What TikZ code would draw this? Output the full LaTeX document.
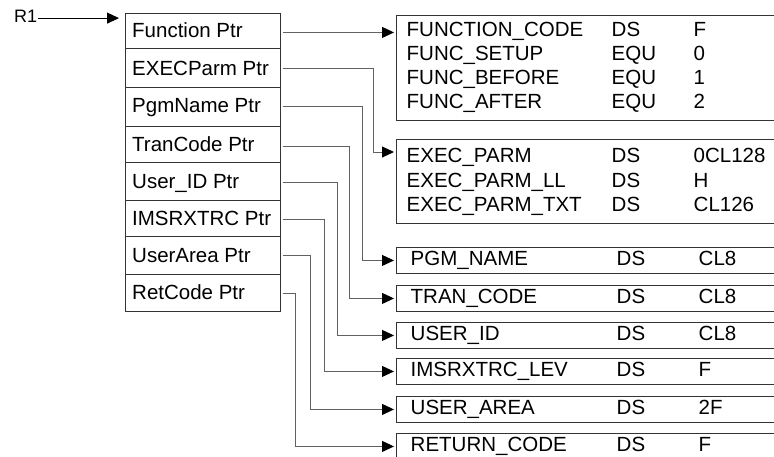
\documentclass[tikz,border=0pt]{standalone}
\usepackage{fontspec}
\setmainfont{Liberation Sans}
\usetikzlibrary{arrows.meta,calc}
\begin{document}
\begin{tikzpicture}[x=1pt,y=-1pt,
  txt/.style={anchor=base west,inner sep=0pt,font=\fontsize{20.5}{24}\selectfont},
  smalltxt/.style={anchor=base west,inner sep=0pt,font=\fontsize{18}{21}\selectfont},
  cell/.style={draw=black!80,line width=0.9pt,anchor=north west,inner sep=0pt,minimum width=155pt},
  bigbox/.style={draw=black!80,line width=0.9pt,anchor=north west,inner sep=0pt,minimum width=420pt},
  link/.style={draw=black!62,line width=0.9pt,-{Triangle[length=12pt,width=11pt,color=black]},shorten >=2pt},
  rlink/.style={draw=black,line width=0.9pt,-{Triangle[length=12pt,width=11pt,color=black]},shorten >=7pt}
]
\path[use as bounding box,clip] (0,0) rectangle (774,457);

% pointer list
\node[cell,minimum height=35pt] (r1) at (125,13) {};
\node[cell,minimum height=39pt] (r2) at (125,48) {};
\node[cell,minimum height=39pt] (r3) at (125,87) {};
\node[cell,minimum height=36pt] (r4) at (125,126) {};
\node[cell,minimum height=38pt] (r5) at (125,162) {};
\node[cell,minimum height=36pt] (r6) at (125,200) {};
\node[cell,minimum height=38pt] (r7) at (125,236) {};
\node[cell,minimum height=37pt] (r8) at (125,274) {};

\node[txt] (t1) at (132,37.7) {Function Ptr};
\node[txt] (t2) at (132,76) {EXECParm Ptr};
\node[txt] (t3) at (132,113) {PgmName Ptr};
\node[txt] (t4) at (132,151.7) {TranCode Ptr};
\node[txt] (t5) at (132,188.3) {User\_ID Ptr};
\node[txt] (t6) at (132,225.7) {IMSRXTRC Ptr};
\node[txt] (t7) at (132,262.3) {UserArea Ptr};
\node[txt] (t8) at (132,299.3) {RetCode Ptr};

% R1
\node[smalltxt] (R1) at (14,22.3) {R1};
\draw[rlink] ([xshift=1pt,yshift=-2pt]R1.east) -- ([xshift=1pt,yshift=-2pt]R1.east -| r1.west);

% target boxes
\node[bigbox,minimum height=105pt] (b1) at (396,15) {};
\node[bigbox,minimum height=84pt] (b2) at (396,139) {};
\node[bigbox,minimum height=26pt] (s1) at (396,247) {};
\node[bigbox,minimum height=26pt] (s2) at (396,285) {};
\node[bigbox,minimum height=26pt] (s3) at (396,322) {};
\node[bigbox,minimum height=26pt] (s4) at (396,358) {};
\node[bigbox,minimum height=26pt] (s5) at (396,396) {};
\node[bigbox,minimum height=26pt] (s6) at (396,433) {};

% box 1 text
\node[txt] (a1) at (406.5,37) {FUNCTION\_CODE};
\node[txt] (a2) at (611.5,37) {DS};
\node[txt] (a3) at (693.5,37) {F};
\node[txt] (a4) at (406.5,61) {FUNC\_SETUP};
\node[txt] (a5) at (611.5,61) {EQU};
\node[txt] (a6) at (693.5,61) {0};
\node[txt] (a7) at (406.5,85) {FUNC\_BEFORE};
\node[txt] (a8) at (611.5,85) {EQU};
\node[txt] (a9) at (693.5,85) {1};
\node[txt] (a10) at (406.5,109) {FUNC\_AFTER};
\node[txt] (a11) at (611.5,109) {EQU};
\node[txt] (a12) at (693.5,109) {2};

% box 2 text
\node[txt] (c1) at (406.5,163) {EXEC\_PARM};
\node[txt] (c2) at (611.5,163) {DS};
\node[txt] (c3) at (693.5,163) {0CL128};
\node[txt] (c4) at (406.5,188) {EXEC\_PARM\_LL};
\node[txt] (c5) at (611.5,188) {DS};
\node[txt] (c6) at (693.5,188) {H};
\node[txt] (c7) at (406.5,212) {EXEC\_PARM\_TXT};
\node[txt] (c8) at (611.5,212) {DS};
\node[txt] (c9) at (693.5,212) {CL126};

% small boxes text
\node[txt] (d1) at (410.5,265.5) {PGM\_NAME};
\node[txt] (d2) at (616.5,265.5) {DS};
\node[txt] (d3) at (698.5,265.5) {CL8};
\node[txt] (e1) at (410.5,303.5) {TRAN\_CODE};
\node[txt] (e2) at (616.5,303.5) {DS};
\node[txt] (e3) at (698.5,303.5) {CL8};
\node[txt] (f1) at (410.5,340.5) {USER\_ID};
\node[txt] (f2) at (616.5,340.5) {DS};
\node[txt] (f3) at (698.5,340.5) {CL8};
\node[txt] (g1) at (410.5,376.5) {IMSRXTRC\_LEV};
\node[txt] (g2) at (616.5,376.5) {DS};
\node[txt] (g3) at (698.5,376.5) {F};
\node[txt] (h1) at (410.5,414.5) {USER\_AREA};
\node[txt] (h2) at (616.5,414.5) {DS};
\node[txt] (h3) at (698.5,414.5) {2F};
\node[txt] (k1) at (410.5,451.5) {RETURN\_CODE};
\node[txt] (k2) at (616.5,451.5) {DS};
\node[txt] (k3) at (698.5,451.5) {F};

% connectors
\coordinate (p1) at ([xshift=2pt,yshift=-1.5pt]r1.east);
\draw[link] (p1) -- (p1 -| b1.west);
\coordinate (e2in) at ($(b2.north west)+(0,13)$);
\draw[link] ([xshift=2pt,yshift=-1pt]r2.east) -| ($(e2in)+(-23,0)$) -- (e2in);
\draw[link] ([xshift=2pt]r3.east) -| ($(s1.west)+(-34,0)$) -- (s1.west);
\draw[link] ([xshift=2pt,yshift=-2pt]r4.east) -| ($(s2.west)+(-47,0)$) -- (s2.west);
\draw[link] ([xshift=2pt,yshift=-1pt]r5.east) -| ($(s3.west)+(-59,0)$) -- (s3.west);
\draw[link] ([xshift=2pt,yshift=-1pt]r6.east) -| ($(s4.west)+(-72,0)$) -- (s4.west);
\draw[link] ([xshift=2pt]r7.east) -| ($(s5.west)+(-86,0)$) -- (s5.west);
\draw[link] ([xshift=2pt]r8.east) -| ($(s6.west)+(-101,0)$) -- (s6.west);
\end{tikzpicture}
\end{document}
